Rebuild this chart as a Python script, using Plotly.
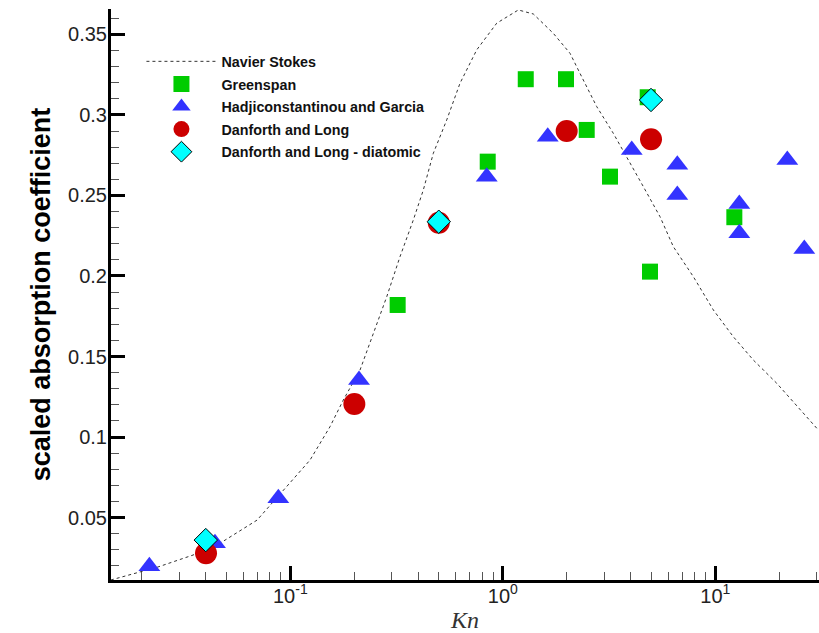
import plotly.graph_objects as go

# Navier Stokes curve
ns_kn = [0.0143, 0.01545, 0.02384, 0.03484, 0.04771, 0.06973, 0.0927, 0.1238, 0.1537, 0.1776,
         0.2128, 0.2458, 0.2842, 0.3282, 0.3792, 0.4225, 0.4709, 0.5445, 0.6288, 0.7535,
         0.9361, 1.183, 1.392, 1.728, 2.071, 2.392, 2.766, 3.311, 3.828, 4.584,
         5.494, 6.345, 7.88, 9.79, 12.15, 15.10, 19.45, 25.04, 30.52]
ns_val = [0.0112, 0.0124, 0.0193, 0.0267, 0.0348, 0.0484, 0.0671, 0.0857, 0.1064, 0.1230,
          0.1416, 0.1644, 0.1871, 0.2120, 0.2348, 0.2534, 0.2762, 0.2969, 0.3197, 0.3404,
          0.3570, 0.3652, 0.3627, 0.3507, 0.3383, 0.3217, 0.3052, 0.2886, 0.2741, 0.2555,
          0.2368, 0.2182, 0.1996, 0.1789, 0.1623, 0.1478, 0.1334, 0.1168, 0.1044]

greenspan_kn = [0.32, 0.849, 1.282, 1.983, 2.482, 3.195, 4.807, 4.928, 12.29]
greenspan_val = [0.182, 0.271, 0.3222, 0.3222, 0.2907, 0.2617, 0.311, 0.2027, 0.2365]

hg_kn = [0.0217, 0.0442, 0.0878, 0.2105, 0.840, 1.627, 4.043, 6.625, 6.625, 12.97, 12.97, 21.82, 26.23]
hg_val = [0.0197, 0.034, 0.0619, 0.1354, 0.2617, 0.2865, 0.2783, 0.269, 0.2503, 0.2447, 0.2265, 0.272, 0.2168]

dl_kn = [0.0401, 0.2001, 0.4995, 1.998, 4.982]
dl_val = [0.0278, 0.1205, 0.2331, 0.290, 0.2849]

dld_kn = [0.04, 0.4995, 4.982]
dld_val = [0.036, 0.2337, 0.3093]

x_major = [0.1, 1, 10]
x_major_text = ["10<sup>-1</sup>", "10<sup>0</sup>", "10<sup>1</sup>"]
x_minor = [m * d for d in (0.01, 0.1, 1, 10) for m in range(2, 10)]

fig = go.Figure()
fig.add_trace(go.Scatter(x=ns_kn, y=ns_val, mode="lines", name="Navier Stokes", legendgroup="g1",
                         line=dict(color="#333333", width=1, dash="3px,3px")))
fig.add_trace(go.Scatter(x=greenspan_kn, y=greenspan_val, mode="markers", name="Greenspan", legendgroup="g2",
                         marker=dict(symbol="square", size=16, color="#00cc00")))
fig.add_trace(go.Scatter(x=hg_kn, y=hg_val, mode="markers", name="Hadjiconstantinou and Garcia", legendgroup="g3",
                         marker=dict(symbol="triangle-up", size=19, color="#3333ff")))
fig.add_trace(go.Scatter(x=dl_kn, y=dl_val, mode="markers", name="Danforth and Long", legendgroup="g4",
                         marker=dict(symbol="circle", size=22, color="#cc0000")))
fig.add_trace(go.Scatter(x=dld_kn, y=dld_val, mode="markers", name="Danforth and Long - diatomic", legendgroup="g5",
                         marker=dict(symbol="diamond", size=18, color="#00ffff",
                                     line=dict(color="black", width=1))))

fig.update_layout(
    width=819, height=633,
    margin=dict(l=111, r=0, t=9, b=53, autoexpand=False),
    paper_bgcolor="white", plot_bgcolor="white",
    font=dict(family="Liberation Sans, Arial, sans-serif", color="#111"),
    showlegend=True,
    legend=dict(x=0.043, y=0.936, xanchor="left", yanchor="top",
                bgcolor="rgba(0,0,0,0)", itemwidth=70, tracegroupgap=1,
                font=dict(size=14.3, family="Liberation Sans, Arial", weight="bold", color="#111")),
    xaxis=dict(type="log", range=[-1.844, 1.488], automargin=False,
               showline=True, linecolor="black", linewidth=2.5, mirror=False,
               showgrid=False, zeroline=False,
               tickmode="array", tickvals=x_major, ticktext=x_major_text,
               ticks="inside", ticklen=14, tickwidth=2.5, tickcolor="black",
               tickfont=dict(size=20, color="#222"),
               ticklabelstandoff=-4,
               minor=dict(tickmode="array", tickvals=x_minor, ticks="inside",
                          ticklen=8, tickwidth=1.2, tickcolor="#555"),
               title=dict(text="<i>Kn</i>",
                          font=dict(family="Liberation Serif, Times New Roman, serif", size=24, color="#333"),
                          standoff=7)),
    yaxis=dict(range=[0.0112, 0.3658], automargin=False,
               showline=True, linecolor="black", linewidth=3,
               showgrid=False, zeroline=False,
               tickmode="linear", tick0=0, dtick=0.05,
               ticks="inside", ticklen=14, tickwidth=2.5, tickcolor="black",
               tickfont=dict(size=20, color="#222"),
               ticklabelstandoff=-3,
               minor=dict(dtick=0.01, ticks="inside", ticklen=8, tickwidth=1.2, tickcolor="#555"),
               title=dict(text="scaled absorption coefficient",
                          font=dict(size=27, weight="bold", color="black"),
                          standoff=10)),
)

fig.write_html("out.html", config={"displayModeBar": False},
               post_script="document.body.style.margin='0';document.body.style.overflow='hidden';")
